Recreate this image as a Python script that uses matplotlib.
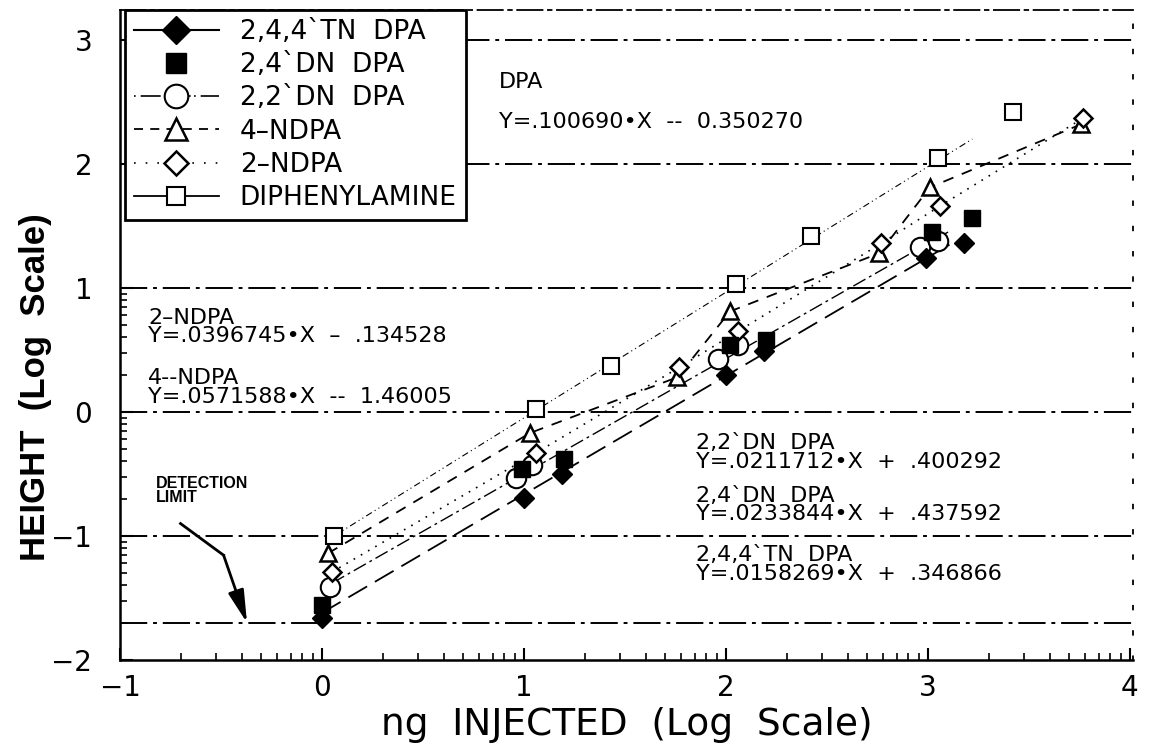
import numpy as np, matplotlib.pyplot as plt
from matplotlib import rcParams
from matplotlib.lines import Line2D

rcParams['font.family'] = ['DejaVu Sans']

# measured points (log10 ng injected, log10 height)
tn_x = [0.0, 1.0, 1.19, 2.0, 2.19, 2.99, 3.18]
tn_y = [-1.66, -0.69, -0.50, 0.30, 0.49, 1.24, 1.36]
dn24_x = [0.0, 0.99, 1.2, 2.02, 2.2, 3.02, 3.22]
dn24_y = [-1.56, -0.46, -0.38, 0.54, 0.58, 1.45, 1.56]
dn22_x = [0.04, 0.96, 1.04, 1.96, 2.06, 2.96, 3.05]
dn22_y = [-1.41, -0.53, -0.43, 0.43, 0.54, 1.33, 1.38]
ndpa4_x = [0.03, 1.03, 1.76, 2.02, 2.76, 3.01, 3.76]
ndpa4_y = [-1.14, -0.17, 0.28, 0.81, 1.28, 1.81, 2.32]
ndpa2_x = [0.05, 1.06, 1.77, 2.06, 2.77, 3.06, 3.77]
ndpa2_y = [-1.29, -0.33, 0.36, 0.65, 1.36, 1.66, 2.37]
dpa_x = [0.06, 1.06, 1.43, 2.05, 2.42, 3.05, 3.42]
dpa_y = [-1.0, 0.02, 0.37, 1.03, 1.42, 2.05, 2.42]

# fitted lines as drawn on the chart
tn_fit_x, tn_fit_y = [0.0, 3.13], [-1.62, 1.37]
dn22_fit_x, dn22_fit_y = [0.05, 3.1], [-1.38, 1.45]
dpa_fit_x, dpa_fit_y = [0.06, 3.22], [-1.0, 2.2]

grid_levels = [3, 2, 1, 0, -1]
detection_limit = -1.7

fig = plt.figure(figsize=(11.49, 7.52), dpi=100)
ax = fig.add_axes([0.1044, 0.1223, 0.8816, 0.8644])
ax.set_xlim(-1, 4.015)
ax.set_ylim(-2, 3.24)

gls = (0, (14, 3, 2, 3))
for g in grid_levels + [detection_limit]:
    ax.axhline(g, color='black', lw=1.4, ls=gls, zorder=1)

ax.plot(tn_fit_x, tn_fit_y, color='black', lw=1.3, ls=(0, (12, 5)))
ax.plot(dn22_fit_x, dn22_fit_y, color='black', lw=1.0, ls=(0, (10, 3, 2, 3)))
ax.plot(ndpa4_x, ndpa4_y, color='black', lw=1.3, ls=(0, (6, 5)))
ax.plot(ndpa2_x, ndpa2_y, color='black', lw=1.2, ls=(0, (1, 4)))
ax.plot(dpa_fit_x, dpa_fit_y, color='black', lw=0.8, ls=(0, (6, 3, 1, 3, 1, 3)))

ax.plot(tn_x, tn_y, 'D', color='black', ms=10, ls='none', zorder=5)
ax.plot(dn24_x, dn24_y, 's', color='black', ms=11, ls='none', zorder=5)
ax.plot(dn22_x, dn22_y, 'o', mfc='white', mec='black', mew=1.5, ms=14, ls='none', zorder=4)
ax.plot(ndpa4_x, ndpa4_y, '^', mfc='white', mec='black', mew=1.8, ms=12, ls='none', zorder=4)
ax.plot(ndpa2_x, ndpa2_y, 'D', mfc='white', mec='black', mew=1.8, ms=9, ls='none', zorder=4)
ax.plot(dpa_x, dpa_y, 's', mfc='white', mec='black', mew=1.5, ms=11, ls='none', zorder=4)

# annotations
fs = 16
kw = dict(fontsize=fs, va='center', linespacing=0.92)
ax.text(0.875, 2.66, 'DPA', **kw)
ax.text(0.875, 2.34, 'Y=.100690•X  --  0.350270', **kw)
ax.text(-0.86, 0.685, '2\u2013NDPA\nY=.0396745•X  \u2013  .134528', **kw)
ax.text(-0.86, 0.195, '4--NDPA\nY=.0571588•X  --  1.46005', **kw)
ax.text(1.85, -0.325, '2,2`DN  DPA\nY=.0211712•X  +  .400292', **kw)
ax.text(1.85, -0.75, '2,4`DN  DPA\nY=.0233844•X  +  .437592', **kw)
ax.text(1.85, -1.23, '2,4,4`TN  DPA\nY=.0158269•X  +  .346866', **kw)

ax.text(-0.82, -0.635, 'DETECTION\nLIMIT', fontsize=11.5, fontweight='bold', family='Liberation Sans',
        va='center', linespacing=0.9)
ax.plot([-0.70, -0.487], [-0.90, -1.155], color='black', lw=2)
ax.annotate('', xy=(-0.371, -1.70), xytext=(-0.487, -1.155),
            arrowprops=dict(arrowstyle='-|>,head_length=0.9,head_width=0.22', color='black', lw=2,
                            shrinkA=0, shrinkB=0, mutation_scale=22))

# ticks
ax.set_xticks(range(-1, 5))
ax.set_yticks(range(-2, 4))
ax.set_yticklabels(['\u22122', '\u22121', '0', '1', '2', '3'])
ax.set_xticklabels(['\u22121', '0', '1', '2', '3', '4'])
minor = np.log10(np.arange(2, 10))
ax.set_xticks([d + m for d in range(-1, 4) for m in minor], minor=True)
ax.set_yticks([d + m for d in range(-2, 1) for m in minor], minor=True)
ax.tick_params(which='major', direction='in', length=9, width=1.5, labelsize=20)
ax.tick_params(which='minor', direction='in', length=5, width=1.2)
ax.tick_params(axis='x', pad=10)
ax.tick_params(axis='y', pad=20)

ax.spines['left'].set_linewidth(1.8)
ax.spines['bottom'].set_linewidth(1.8)
ax.spines['top'].set_linestyle((0, (14, 3, 2, 3)))
ax.spines['right'].set_linestyle((0, (2, 12)))
ax.spines['top'].set_linewidth(1.3)
ax.spines['right'].set_linewidth(1.3)

ax.set_xlabel('ng  INJECTED  (Log  Scale)', fontsize=27)
ax.xaxis.set_label_coords(0.5, -0.072)
ax.set_ylabel('HEIGHT  (Log  Scale)', fontsize=25, family='Liberation Sans', fontweight='bold')
ax.yaxis.set_label_coords(-0.067, 0.42)

handles = [
    Line2D([], [], color='black', lw=1.5, marker='D', ms=14),
    Line2D([], [], color='black', ls='none', marker='s', ms=15),
    Line2D([], [], color='black', lw=1.2, ls=(0, (1, 3, 12, 2)), marker='o', mfc='white', mec='black', mew=1.5, ms=17),
    Line2D([], [], color='black', lw=1.3, ls=(0, (5, 4)), marker='^', mfc='white', mec='black', mew=1.8, ms=16),
    Line2D([], [], color='black', lw=1.2, ls=(0, (1, 6)), marker='D', mfc='white', mec='black', mew=1.8, ms=12),
    Line2D([], [], color='black', lw=1.3, marker='s', mfc='white', mec='black', mew=1.5, ms=13),
]
labels = ['2,4,4`TN  DPA', '2,4`DN  DPA', '2,2`DN  DPA', '4\u2013NDPA', '2\u2013NDPA', 'DIPHENYLAMINE']
leg = ax.legend(handles, labels, loc='upper left', bbox_to_anchor=(0.005, 1.0), borderaxespad=0,
                fontsize=19, handlelength=3.2, fancybox=False, framealpha=1, edgecolor='black',
                labelspacing=0.27, handletextpad=0.8, borderpad=0.35)
leg.get_frame().set_linewidth(2)
leg.set_zorder(10)

plt.savefig('out.png', dpi=100)
